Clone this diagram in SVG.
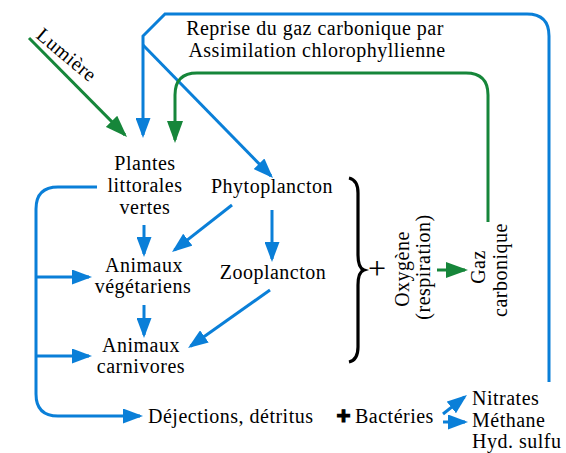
<svg xmlns="http://www.w3.org/2000/svg" width="566" height="453" viewBox="0 0 566 453">
<style>
text{font-family:"Liberation Serif","Times New Roman",serif;font-size:20px;letter-spacing:0.5px;fill:#000}
.m{text-anchor:middle}
.b{fill:none;stroke:#0a7fd8;stroke-width:3}
.g{fill:none;stroke:#16863a;stroke-width:3}
</style>
<defs>
<marker id="ab" markerUnits="userSpaceOnUse" markerWidth="20" markerHeight="15" refX="17" refY="7.5" orient="auto"><path d="M0,0L20,7.5L0,15z" fill="#0a7fd8"/></marker>
<marker id="ag" markerUnits="userSpaceOnUse" markerWidth="22" markerHeight="16" refX="19" refY="8" orient="auto"><path d="M0,0L22,8L0,16z" fill="#16863a"/></marker>
</defs>
<rect width="566" height="453" fill="#fff"/>
<g id="connectors">
<path class="g" d="M29,38L124.9,134.9" marker-end="url(#ag)"/>
<path class="b" d="M549,382V36Q549,14 527,14H165L143,36V135" marker-end="url(#ab)"/>
<path class="b" d="M143,45L270.9,175.9" marker-end="url(#ab)"/>
<path class="g" d="M488,222V95Q488,73 466,73H197Q175,73 175,95V140" marker-end="url(#ag)"/>
<path class="b" d="M97,187H58Q36,187 36,209V394Q36,416 58,416H140" marker-end="url(#ab)"/>
<path class="b" d="M36,277H89" marker-end="url(#ab)"/>
<path class="b" d="M36,356H89" marker-end="url(#ab)"/>
<path class="b" d="M144,225V254" marker-end="url(#ab)"/>
<path class="b" d="M232,205L174.4,250.1" marker-end="url(#ab)"/>
<path class="b" d="M272,210V259" marker-end="url(#ab)"/>
<path class="b" d="M144,305V335" marker-end="url(#ab)"/>
<path class="b" d="M270,290L190.5,346.3" marker-end="url(#ab)"/>
<path class="b" d="M443,414L464.6,396.8" marker-end="url(#ab)"/>
<path class="b" d="M443,422H465" marker-end="url(#ab)"/>
<path class="g" d="M437,270H465" marker-end="url(#ag)"/>
</g>
<g id="lumiere"><text transform="translate(35,37) rotate(40)">Lumière</text></g>
<g id="reprise"><text class="m" x="315" y="35">Reprise du gaz carbonique par</text><text class="m" x="317" y="57">Assimilation chlorophyllienne</text></g>
<g id="plantes"><text class="m" x="145" y="170">Plantes</text><text class="m" x="145" y="192">littorales</text><text class="m" x="145" y="214">vertes</text></g>
<g id="phyto"><text class="m" x="272" y="193">Phytoplancton</text></g>
<g id="vegetariens"><text class="m" x="144" y="272">Animaux</text><text class="m" x="143" y="293">végétariens</text></g>
<g id="zoo"><text class="m" x="273" y="279">Zooplancton</text></g>
<g id="carnivores"><text class="m" x="141" y="352">Animaux</text><text class="m" x="141" y="373">carnivores</text></g>
<g id="brace"><path d="M349,178Q358,180 358,193V255Q358,268 364,270Q358,272 358,285V347Q358,360 349,362" fill="none" stroke="#000" stroke-width="3.2"/><text class="m" x="377" y="279" style="font-size:32px;letter-spacing:0">+</text></g>
<g id="oxygene"><text class="m" transform="translate(409,269) rotate(-90)">Oxygène</text><text class="m" transform="translate(430,267) rotate(-90)">(respiration)</text></g>
<g id="gaz"><text class="m" transform="translate(485,267) rotate(-90)">Gaz</text><text class="m" transform="translate(507,270) rotate(-90)">carbonique</text></g>
<g id="dejections"><text x="148" y="423">Déjections, détritus</text><text x="343.5" y="424" class="m" style="font-family:'Liberation Sans',Arial,sans-serif;font-weight:bold;font-size:24px;letter-spacing:0;stroke:#000;stroke-width:1.2">+</text><text x="355" y="423">Bactéries</text></g>
<g id="produits"><text x="472" y="405">Nitrates</text><text x="472" y="427">Méthane</text><text x="472" y="448">Hyd. sulfu</text></g>
</svg>
